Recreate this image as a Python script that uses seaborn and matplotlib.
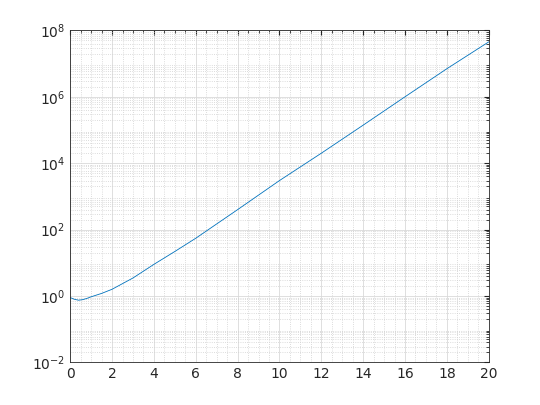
import matplotlib
matplotlib.use("Agg")
import matplotlib.pyplot as plt
import seaborn as sns
import pandas as pd
import numpy as np

x = [0, 0.2, 0.4, 0.6, 0.8, 1.0, 1.5, 2, 3, 4, 5, 6, 8, 10, 12, 14, 16, 18, 20]
y = [0.9, 0.8, 0.75, 0.78, 0.85, 0.95, 1.2, 1.6, 3.5, 9, 22, 55, 400, 3000, 2e4, 1.4e5, 1e6, 7e6, 4.5e7]

sns.set_style("white")
fig = plt.figure(figsize=(5.4, 4.05), dpi=100)
ax = fig.add_axes([0.13, 0.105, 0.775, 0.82])
df = pd.DataFrame({"x": x, "y": y})
sns.lineplot(data=df, x="x", y="y", ax=ax, color="#0072BD", linewidth=0.6)
ax.set_yscale("log")
ax.set_xlim(0, 20)
ax.set_ylim(1e-2, 1e8)
ax.set_xticks(range(0, 21, 2))
ax.set_yticks([1e-2, 1e0, 1e2, 1e4, 1e6, 1e8])
ax.yaxis.set_minor_locator(matplotlib.ticker.LogLocator(base=10, subs=np.arange(2, 10), numticks=100))
ax.yaxis.set_minor_formatter(matplotlib.ticker.NullFormatter())
ax.xaxis.set_minor_locator(matplotlib.ticker.MultipleLocator(0.5))
ax.set_xlabel("")
ax.set_ylabel("")
ax.grid(True, which="major", color="#d9d9d9", linewidth=0.6)
ax.grid(True, which="minor", color="#d0d0d0", linestyle=":", linewidth=0.6)
ax.tick_params(direction="in", which="both", top=True, right=True, labelsize=10, colors="#262626")
ax.tick_params(which="minor", length=2)
for s in ax.spines.values():
    s.set_color("#262626")
    s.set_linewidth(0.6)
fig.savefig("out.png", dpi=100)
